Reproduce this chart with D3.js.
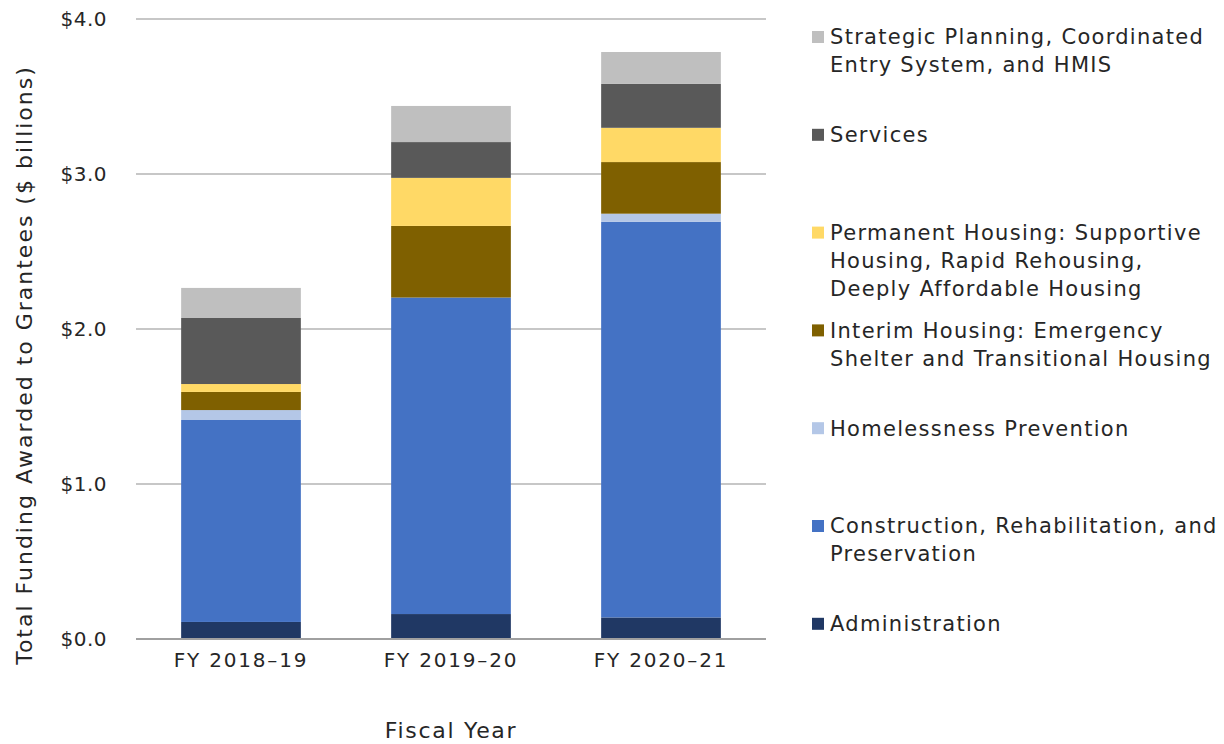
<!DOCTYPE html>
<html>
<head>
<meta charset="utf-8">
<script src="https://cdn.jsdelivr.net/npm/d3@7"></script>
<style>
  body { margin: 0; background: #fff; }
  text { font-family: "DejaVu Sans", sans-serif; fill: #262626; }
</style>
</head>
<body>
<div id="chart"></div>
<script>
// data ($ billions)
let years = ["FY 2018–19", "FY 2019–20", "FY 2020–21"];
let categories = ["Administration", "Construction", "Prevention", "Interim", "Permanent", "Services", "Strategic"];
let administration = [0.110, 0.161, 0.139];
let construction   = [1.303, 2.042, 2.552];
let prevention     = [0.064, 0.000, 0.053];
let interim        = [0.117, 0.462, 0.333];
let permanent      = [0.051, 0.310, 0.221];
let services       = [0.426, 0.231, 0.283];
let strategic      = [0.194, 0.233, 0.206];
let yTicks = [0, 1, 2, 3, 4];

let legendLabels = [
  ["Strategic Planning, Coordinated", "Entry System, and HMIS"],
  ["Services"],
  ["Permanent Housing: Supportive", "Housing, Rapid Rehousing,", "Deeply Affordable Housing"],
  ["Interim Housing: Emergency", "Shelter and Transitional Housing"],
  ["Homelessness Prevention"],
  ["Construction, Rehabilitation, and", "Preservation"],
  ["Administration"]
];
let legendKeys = ["Strategic", "Services", "Permanent", "Interim", "Prevention", "Construction", "Administration"];

let colors = {
  Administration: "#203864",
  Construction: "#4472c4",
  Prevention: "#b4c7e7",
  Interim: "#7f6000",
  Permanent: "#ffd966",
  Services: "#595959",
  Strategic: "#bfbfbf"
};

let series = {
  Administration: administration, Construction: construction, Prevention: prevention,
  Interim: interim, Permanent: permanent, Services: services, Strategic: strategic
};

let table = years.map((y, i) => {
  let row = {year: y};
  categories.forEach(c => row[c] = series[c][i]);
  return row;
});

let fullWidth = 1224, fullHeight = 744;
let margin = {top: 19, left: 136};
let width = 630, height = 620;

let svg = d3.select("#chart").append("svg")
    .attr("width", fullWidth)
    .attr("height", fullHeight);

let g = svg.append("g")
    .attr("transform", "translate(" + margin.left + "," + margin.top + ")");

let x = d3.scaleBand().domain(years).range([0, width]).paddingInner(0.43).paddingOuter(0.215);
let y = d3.scaleLinear().domain([0, 4]).range([height, 0]);

// gridlines
g.selectAll(".grid")
    .data(yTicks.filter(d => d > 0))
    .enter().append("line")
    .attr("x1", 0).attr("x2", width)
    .attr("y1", d => y(d)).attr("y2", d => y(d))
    .attr("stroke", "#b4b4b4").attr("stroke-width", 1.5);

let stack = d3.stack().keys(categories);
let layers = stack(table);

g.selectAll(".layer")
    .data(layers)
    .enter().append("g")
    .attr("fill", d => colors[d.key])
    .selectAll("rect")
    .data(d => d)
    .enter().append("rect")
      .attr("x", d => x(d.data.year))
      .attr("width", x.bandwidth())
      .attr("y", d => y(d[1]))
      .attr("height", d => y(d[0]) - y(d[1]));

// baseline
g.append("line")
    .attr("x1", 0).attr("x2", width)
    .attr("y1", y(0)).attr("y2", y(0))
    .attr("stroke", "#a0a0a0").attr("stroke-width", 2);

// y axis
let yAxis = g.append("g")
    .call(d3.axisLeft(y).tickValues(yTicks).tickSize(0).tickPadding(29).tickFormat(d => "$" + d.toFixed(1)));
yAxis.select(".domain").remove();
yAxis.selectAll("text").style("font-size", "20px").style("letter-spacing", "0.5px").attr("fill", "#262626");

// x axis
let xAxis = g.append("g")
    .attr("transform", "translate(0," + height + ")")
    .call(d3.axisBottom(x).tickSize(0).tickPadding(14));
xAxis.select(".domain").remove();
xAxis.selectAll("text").style("font-size", "20px").style("letter-spacing", "1.8px").attr("fill", "#262626");

// axis titles
svg.append("text")
    .attr("transform", "translate(32,365) rotate(-90)")
    .attr("text-anchor", "middle")
    .style("font-size", "22px")
    .style("letter-spacing", "2px")
    .text("Total Funding Awarded to Grantees ($ billions)");

svg.append("text")
    .attr("x", margin.left + width / 2)
    .attr("y", 738)
    .attr("text-anchor", "middle")
    .style("font-size", "22px")
    .style("letter-spacing", "1.7px")
    .text("Fiscal Year");

// legend
let legendStep = 97.8;
let legend = svg.selectAll(".legend")
    .data(legendKeys)
    .enter().append("g")
    .attr("class", "legend")
    .attr("transform", (d, i) => "translate(812," + (37 + i * legendStep) + ")");

legend.append("rect")
    .attr("x", 0).attr("y", -6)
    .attr("width", 12).attr("height", 12)
    .attr("fill", d => colors[d]);

legend.append("text")
    .attr("x", 18)
    .style("font-size", "21px")
    .style("letter-spacing", "1.3px")
    .selectAll("tspan")
    .data((d, i) => legendLabels[i])
    .enter().append("tspan")
      .attr("x", 18)
      .attr("dy", (d, i) => i === 0 ? "0.35em" : "28")
      .text(d => d);
</script>
</body>
</html>
